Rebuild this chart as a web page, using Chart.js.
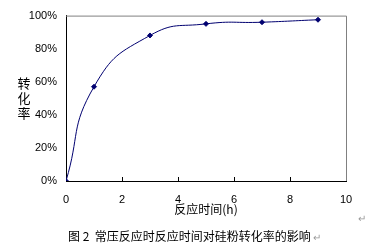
<!DOCTYPE html>
<html>
<head>
<meta charset="utf-8">
<script src="https://cdn.jsdelivr.net/npm/chart.js@4/dist/chart.umd.min.js"></script>
<style>
  html, body { margin: 0; padding: 0; background: #fff; }
  #wrap { position: relative; width: 390px; height: 247px; }
</style>
</head>
<body>
<div id="wrap"><canvas id="conversionChart" width="390" height="247"></canvas></div>
<script>
// reaction time (h) and conversion (%)
var times = [0, 1, 3, 5, 7, 9]
var conversion = [0, 57, 88, 95, 96, 97.5]
var xTicks = [0, 2, 4, 6, 8, 10]
var yTicks = [0, 20, 40, 60, 80, 100]

var yTitle = ['转', '化', '率']
var xTitle = '反应时间(h)'
var caption = '图 2  常压反应时反应时间对硅粉转化率的影响'

var lineColor = '#000070'
var cjkFont = '"Noto Sans CJK SC", sans-serif'

var points = times.map(function (t, i) { return {x: t, y: conversion[i]} })

// frame, inner tick marks and the texts around the plot
var extras = {
    id: 'extras',
    afterDraw: function (chart) {
        var ctx = chart.ctx
        var a = chart.chartArea
        var xs = chart.scales.x
        ctx.save()
        ctx.strokeStyle = '#808080'
        ctx.lineWidth = 1
        ctx.beginPath()
        ctx.moveTo(a.left, a.top + 0.5)
        ctx.lineTo(a.right + 0.5, a.top + 0.5)
        ctx.lineTo(a.right + 0.5, a.bottom)
        ctx.stroke()

        ctx.strokeStyle = '#000'
        ctx.beginPath()
        xTicks.forEach(function (v) {
            var px = Math.round(xs.getPixelForValue(v)) + 0.5
            if (v === 0 || v === 10) return
            ctx.moveTo(px, a.bottom)
            ctx.lineTo(px, a.bottom - 4)
        })
        ctx.stroke()

        ctx.fillStyle = '#000'
        ctx.textAlign = 'center'
        ctx.textBaseline = 'middle'
        ctx.font = '13px ' + cjkFont
        yTitle.forEach(function (ch, i) {
            ctx.fillText(ch, 24, 83 + i * 15)
        })
        ctx.font = '12px ' + cjkFont
        ctx.fillText(xTitle, 206, 209)
        ctx.textAlign = 'left'
        ctx.fillText(caption, 68, 236)
        var w = ctx.measureText(caption).width
        ctx.fillStyle = '#999'
        ctx.font = '10px ' + cjkFont
        ctx.fillText('↵', 70 + w, 237)
        ctx.fillText('↵', 358, 218)
        ctx.restore()
    }
}

var ctx = document.getElementById('conversionChart')

var conversionChart = new Chart(ctx, {
    type: 'line',
    data: {
        datasets: [{
            data: points,
            borderColor: lineColor,
            backgroundColor: lineColor,
            borderWidth: 1,
            tension: 0.5,
            pointStyle: 'rectRot',
            pointRadius: 2.5,
            pointHoverRadius: 2.5
        }]
    },
    options: {
        responsive: false,
        animation: false,
        layout: { padding: { top: 13, right: 44, left: 0, bottom: 0 } },
        plugins: { legend: { display: false }, tooltip: { enabled: false } },
        scales: {
            x: {
                type: 'linear',
                min: 0,
                max: 10,
                afterFit: function (s) { s.height = 66 },
                afterBuildTicks: function (s) { s.ticks = xTicks.map(function (v) { return {value: v} }) },
                grid: { drawOnChartArea: false, drawTicks: false },
                border: { display: true, color: '#000', width: 1 },
                ticks: { padding: 12, color: '#000', font: { family: 'Liberation Sans', size: 11 } }
            },
            y: {
                min: 0,
                max: 100,
                afterFit: function (s) { s.width = 66 },
                afterBuildTicks: function (s) { s.ticks = yTicks.map(function (v) { return {value: v} }) },
                grid: { drawOnChartArea: false, drawTicks: false },
                border: { display: true, color: '#000', width: 1 },
                ticks: {
                    padding: 9,
                    color: '#000',
                    font: { family: 'Liberation Sans', size: 11 },
                    callback: function (v) { return v + '%' }
                }
            }
        }
    },
    plugins: [extras]
});
</script>
</body>
</html>
